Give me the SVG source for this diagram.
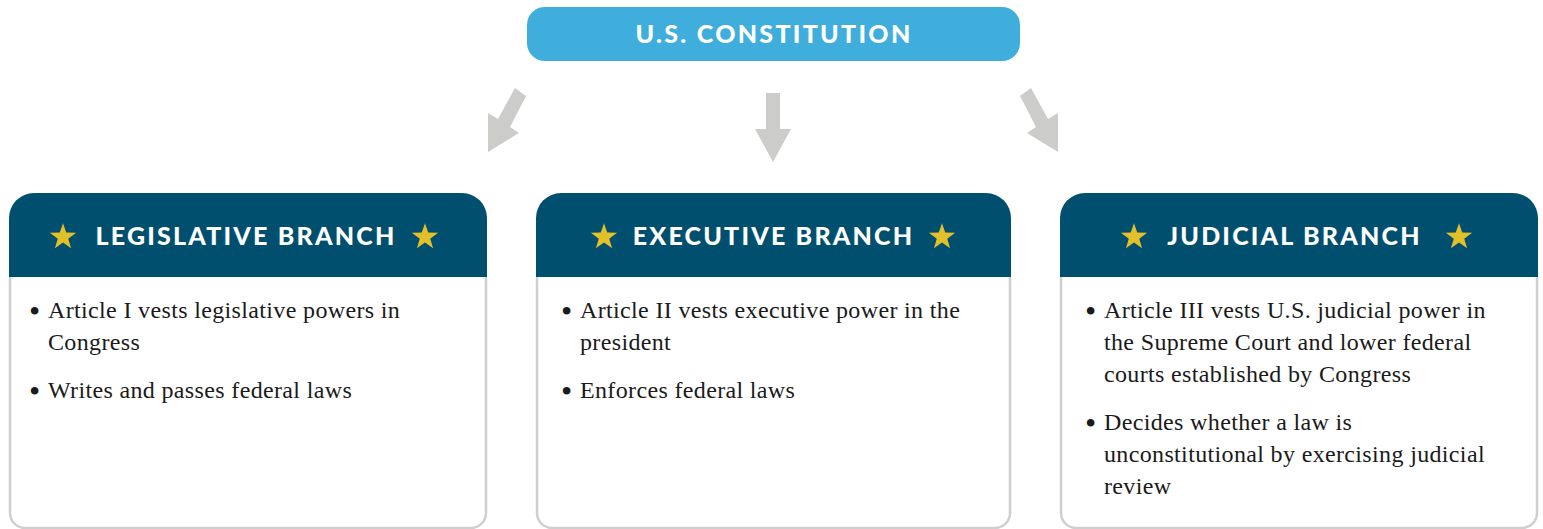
<svg xmlns="http://www.w3.org/2000/svg" width="1543" height="529" viewBox="0 0 1543 529">
<style>
.title{font-family:"Lato","Liberation Sans",sans-serif;font-weight:900;fill:#ffffff;font-size:25px;letter-spacing:2.3px;text-anchor:middle}
.head{font-family:"Lato","Liberation Sans",sans-serif;font-weight:900;fill:#ffffff;font-size:25px;letter-spacing:2.2px;text-anchor:middle}
.hdr{fill:#004f6e}
.body{fill:#ffffff;stroke:#cfcfcf;stroke-width:2.5}
.txt{font-family:"Liberation Serif","Times New Roman",serif;font-size:24px;letter-spacing:0.35px;fill:#1a1a1a}
.bul{font-family:"Liberation Serif","Times New Roman",serif;font-size:32px;fill:#1a1a1a}
.arrow{fill:#cccccb}
.star{fill:#e3bf2a}
</style>
<defs>
<path id="star" d="M0,-13.8 L3.24,-4.47 L13.12,-4.26 L5.25,1.71 L8.11,11.16 L0,5.52 L-8.11,11.16 L-5.25,1.71 L-13.12,-4.26 L-3.24,-4.47 Z"/>
</defs>
<rect width="1543" height="529" fill="#ffffff"/>

<g id="constitution">
<rect x="527" y="7" width="493" height="54" rx="18" fill="#3faedc"/>
<text class="title" x="774" y="43">U.S. CONSTITUTION</text>
</g>

<g id="connectors">
<polygon class="arrow" points="515,88 526,96 510,127 519,133 488,152 488,113 498,119"/>
<polygon class="arrow" points="766,93 780,93 780,129 791,129 773,162 755,129 766,129"/>
<polygon class="arrow" points="1031,88 1020,96 1036,127 1027,133 1058,152 1058,113 1048,119"/>
</g>

<g id="legislative">
<path class="body" d="M10,277 V513 A15,15 0 0 0 25,528 H471 A15,15 0 0 0 486,513 V277"/>
<path class="hdr" d="M9,277 V218 A25,25 0 0 1 34,193 H462 A25,25 0 0 1 487,218 V277 Z"/>
<use href="#star" class="star" x="63" y="237"/>
<use href="#star" class="star" x="425" y="237"/>
<text class="head" x="246" y="245">LEGISLATIVE BRANCH</text>
<text class="bul" x="29" y="322">•</text>
<text class="txt" x="48" y="318">Article I vests legislative powers in</text>
<text class="txt" x="48" y="350">Congress</text>
<text class="bul" x="29" y="402">•</text>
<text class="txt" x="48" y="398">Writes and passes federal laws</text>
</g>

<g id="executive">
<path class="body" d="M537,277 V513 A15,15 0 0 0 552,528 H995 A15,15 0 0 0 1010,513 V277"/>
<path class="hdr" d="M536,277 V218 A25,25 0 0 1 561,193 H986 A25,25 0 0 1 1011,218 V277 Z"/>
<use href="#star" class="star" x="604" y="237"/>
<use href="#star" class="star" x="942" y="237"/>
<text class="head" x="773.5" y="245">EXECUTIVE BRANCH</text>
<text class="bul" x="561" y="322">•</text>
<text class="txt" x="580" y="318">Article II vests executive power in the</text>
<text class="txt" x="580" y="350">president</text>
<text class="bul" x="561" y="402">•</text>
<text class="txt" x="580" y="398">Enforces federal laws</text>
</g>

<g id="judicial">
<path class="body" d="M1061,277 V513 A15,15 0 0 0 1076,528 H1522 A15,15 0 0 0 1537,513 V277"/>
<path class="hdr" d="M1060,277 V218 A25,25 0 0 1 1085,193 H1513 A25,25 0 0 1 1538,218 V277 Z"/>
<use href="#star" class="star" x="1134" y="237"/>
<use href="#star" class="star" x="1459" y="237"/>
<text class="head" x="1294.5" y="245">JUDICIAL BRANCH</text>
<text class="bul" x="1085" y="322">•</text>
<text class="txt" x="1104" y="318">Article III vests U.S. judicial power in</text>
<text class="txt" x="1104" y="350">the Supreme Court and lower federal</text>
<text class="txt" x="1104" y="382">courts established by Congress</text>
<text class="bul" x="1085" y="434">•</text>
<text class="txt" x="1104" y="430">Decides whether a law is</text>
<text class="txt" x="1104" y="462">unconstitutional by exercising judicial</text>
<text class="txt" x="1104" y="494">review</text>
</g>
</svg>
